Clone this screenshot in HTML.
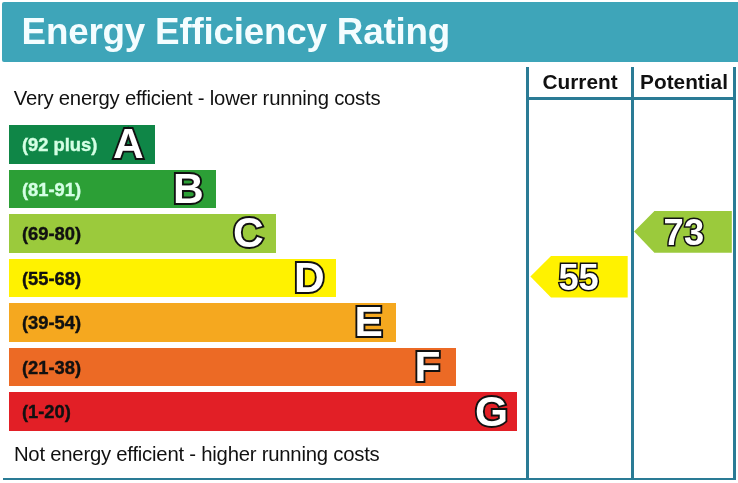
<!DOCTYPE html>
<html>
<head>
<meta charset="utf-8">
<title>Energy Efficiency Rating</title>
<style>
html,body{margin:0;padding:0;background:#fff;}
body{width:738px;height:483px;position:relative;overflow:hidden;font-family:"Liberation Sans",sans-serif;}
.abs{position:absolute;}
#wrap{position:absolute;left:0;top:0;width:738px;height:483px;will-change:transform;}
#hdr{left:2px;top:2px;width:736px;height:59.7px;background:#3ea5b9;border-radius:2px 0 0 2px;}
#title{left:21.6px;top:10.8px;font-size:36.8px;letter-spacing:-0.21px;font-weight:bold;color:#f4fdff;line-height:41px;white-space:nowrap;}
.cap{font-size:20.3px;letter-spacing:-0.22px;color:#111;line-height:22px;white-space:nowrap;}
.bar{left:8.7px;height:38.7px;}
.rng{left:21.9px;font-size:18.35px;font-weight:bold;line-height:20px;white-space:nowrap;color:#111;-webkit-text-stroke:0.4px currentColor;transform:scale(1,0.95);transform-origin:0 50%;}
.ltr{font-size:42.5px;font-weight:bold;line-height:43px;color:#fff;-webkit-text-stroke:3.8px #111;paint-order:stroke fill;white-space:nowrap;}
.vl{width:2.7px;background:#2a7b95;top:66.5px;height:413px;}
.hl{height:2.7px;background:#2a7b95;}
.colh{font-size:20.8px;font-weight:bold;color:#111;line-height:22px;white-space:nowrap;}
.num{font-size:36.3px;font-weight:bold;line-height:38px;color:#fff;-webkit-text-stroke:3.0px #111;paint-order:stroke fill;white-space:nowrap;transform:scale(1,1.04);transform-origin:50% 83%;}
</style>
</head>
<body>
<div id="wrap">
<div id="hdr" class="abs"></div>
<div id="title" class="abs">Energy Efficiency Rating</div>

<div class="abs cap" style="left:13.7px;top:87.0px;">Very energy efficient - lower running costs</div>
<div class="abs cap" style="left:13.9px;top:443.0px;">Not energy efficient - higher running costs</div>

<div class="abs bar" style="top:125.0px;width:146.6px;background:#0f8647;"></div>
<div class="abs bar" style="top:169.6px;width:206.9px;background:#2c9f36;"></div>
<div class="abs bar" style="top:214.1px;width:267.0px;background:#9bca3c;"></div>
<div class="abs bar" style="top:258.6px;width:327.3px;background:#fff200;"></div>
<div class="abs bar" style="top:303.2px;width:387.4px;background:#f5a81f;"></div>
<div class="abs bar" style="top:347.8px;width:447.5px;background:#ec6a25;"></div>
<div class="abs bar" style="top:392.3px;width:508.0px;background:#e21f26;"></div>
<div class="abs rng" style="top:135.1px; color:#d4ffe4;">(92 plus)</div>
<div class="abs rng" style="top:179.7px; color:#d4ffe4;">(81-91)</div>
<div class="abs rng" style="top:224.2px;">(69-80)</div>
<div class="abs rng" style="top:268.8px;">(55-68)</div>
<div class="abs rng" style="top:313.3px;">(39-54)</div>
<div class="abs rng" style="top:357.9px;">(21-38)</div>
<div class="abs rng" style="top:402.4px;">(1-20)</div>
<div class="abs ltr" style="left:112.9px;top:121.8px;">A</div>
<div class="abs ltr" style="left:173.1px;top:167.4px;">B</div>
<div class="abs ltr" style="left:233.1px;top:211.3px;">C</div>
<div class="abs ltr" style="left:293.9px;top:256.4px;">D</div>
<div class="abs ltr" style="left:354.6px;top:300.0px;">E</div>
<div class="abs ltr" style="left:414.6px;top:344.6px;">F</div>
<div class="abs ltr" style="left:475.0px;top:389.5px;">G</div>

<div class="abs vl" style="left:526.3px;"></div>
<div class="abs vl" style="left:631.3px;"></div>
<div class="abs vl" style="left:733.3px;"></div>
<div class="abs hl" style="left:526.3px;top:97.3px;width:209.7px;"></div>
<div class="abs hl" style="left:3px;top:477.6px;width:733px;"></div>

<div class="abs colh" style="left:542.5px;top:71.4px;">Current</div>
<div class="abs colh" style="left:640.1px;top:71.4px;">Potential</div>

<svg class="abs" style="left:0;top:0;" width="738" height="483">
<polygon points="530.4,276.6 551,256 627.7,256 627.7,297.6 551,297.6" fill="#fff200"/>
<polygon points="634.1,231.6 654.4,211.1 731.8,211.1 731.8,252.8 654.4,252.8" fill="#9bca3c"/>
</svg>
<div class="abs num" style="left:558.4px;top:258.6px;">55</div>
<div class="abs num" style="left:663.4px;top:213.8px;letter-spacing:0.5px;">73</div>
</div>
</body>
</html>
